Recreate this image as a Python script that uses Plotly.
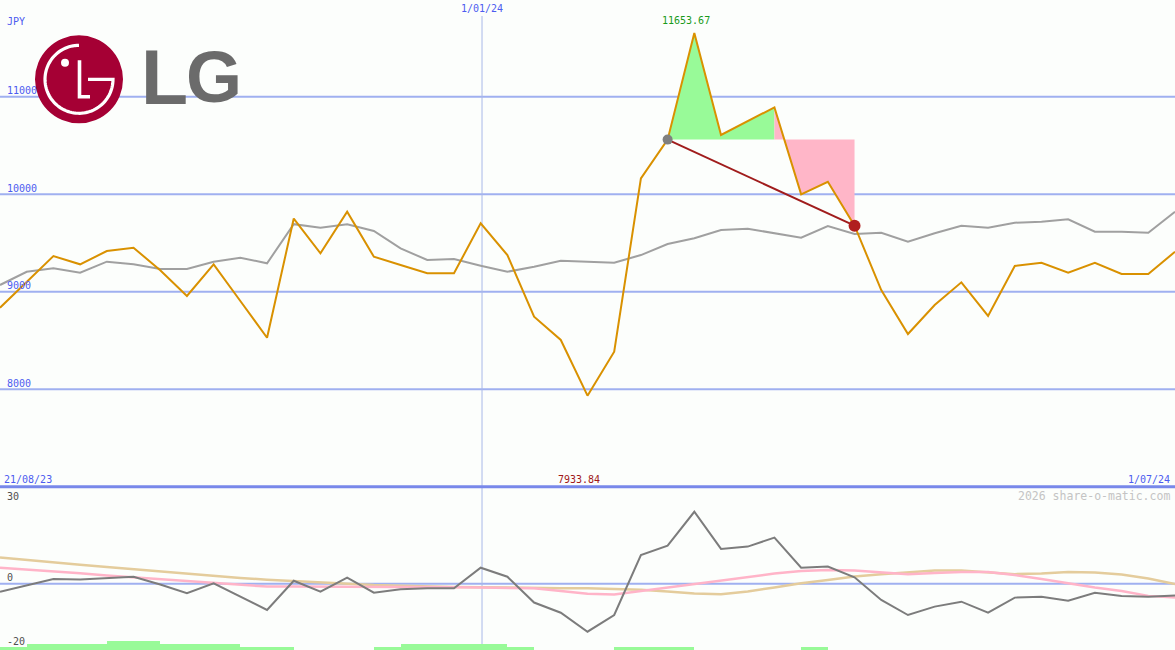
import numpy as np
import plotly.graph_objects as go

# ---------------- data ----------------
n_points = 45
idx = list(range(n_points))

price = [8836, 9100, 9366, 9281, 9417, 9451, 9220, 8956, 9281, 8905,
         8528, 9750, 9394, 9821, 9359, 9274, 9189, 9189, 9701, 9376,
         8744, 8505, 7933.84, 8385, 10163, 10560, 11653.67, 10608, 10750, 10891,
         9999, 10128, 9677, 9017, 8566, 8864, 9096, 8751, 9264, 9297,
         9195, 9297, 9182, 9182, 9410]

moving_avg = [9069, 9205, 9240, 9195, 9308, 9281, 9233, 9233, 9308, 9349,
              9291, 9693, 9656, 9691, 9623, 9445, 9325, 9335, 9267, 9205,
              9256, 9318, 9308, 9297, 9376, 9489, 9548, 9633, 9646, 9599,
              9554, 9674, 9592, 9605, 9513, 9599, 9677, 9656, 9708, 9718,
              9743, 9615, 9615, 9605, 9821]

oscillator = [-2.76, -0.55, 1.62, 1.45, 1.97, 2.41, -0.3, -3.31, 0.14, -4.48,
              -9.07, 1.03, -2.76, 2.07, -3.1, -1.93, -1.59, -1.59, 5.52, 2.41,
              -6.5, -10.0, -16.55, -10.8, 9.9, 13.1, 24.8, 12.0, 12.8, 15.9,
              5.5, 5.9, 2.2, -5.6, -10.8, -7.9, -6.2, -10.0, -4.8, -4.5,
              -5.9, -3.1, -4.2, -4.5, -4.1]

signal_pink = [5.5, 4.9, 4.4, 3.6, 2.8, 2.2, 1.6, 1.0, 0.4, -0.3,
               -1.0, -1.0, -1.0, -1.05, -1.1, -1.15, -1.2, -1.25, -1.3, -1.4,
               -1.6, -2.5, -3.5, -3.7, -2.5, -1.1, 0.1, 1.3, 2.5, 3.5,
               4.4, 4.7, 4.55, 3.8, 3.3, 3.7, 4.0, 4.0, 3.0, 1.6,
               0.1, -1.3, -2.5, -4.2, -4.8]

signal_tan = [9.0, 8.1, 7.3, 6.5, 5.8, 5.0, 4.2, 3.5, 2.7, 2.0,
              1.4, 0.9, 0.5, 0.0, -0.45, -0.7, -1.0, -1.1, -1.2, -1.4,
              -1.55, -1.6, -1.6, -1.8, -2.1, -2.7, -3.4, -3.6, -2.7, -1.3,
              0.15, 1.3, 2.5, 3.3, 4.0, 4.55, 4.55, 4.0, 3.3, 3.5,
              4.0, 3.9, 3.2, 1.8, -0.1]

bar_levels = [1, 2, 2, 2, 3, 3, 2, 2, 2, 1, 1, 0, 0, 0, 1, 2, 2, 2, 2, 1,
              0, 0, 0, 1, 1, 1, 0, 0, 0, 0, 1, 0, 0, 0, 0, 0, 0, 0, 0, 0,
              0, 0, 0, 0]

price_ticks = [8000, 9000, 10000, 11000]
osc_ticks = [30, 0, -20]
date_labels = ["21/08/23", "1/01/24", "1/07/24"]
date_pos = [0, 18.05, 44]

start_i, peak_i, end_i = 25, 26, 32   # trade start, high, exit
turn_i = 29
max_label = "11653.67"
min_label = "7933.84"

# ---------------- layout helpers ----------------
W, H = 1175, 650
def px(x):
    return x / W
def py(y):
    return 1 - y / H

BG = "#fcfefc"
GRID = "#a0b0f0"
LBL = "#4c5cf0"
MONO = "DejaVu Sans Mono"

top_range = [6997, 11992]
bot_range = [-22.86, 33.0]

fig = go.Figure()

# green / pink areas
base = price[start_i]
gx = idx[start_i:turn_i + 1] + [idx[turn_i], idx[start_i]]
gy = price[start_i:turn_i + 1] + [base, base]
fig.add_trace(go.Scatter(x=gx, y=gy, fill="toself", fillcolor="#98fa98",
                         line=dict(width=0), mode="lines", hoverinfo="skip",
                         xaxis="x", yaxis="y"))
rx = idx[turn_i:end_i + 1] + [idx[end_i], idx[turn_i]]
ry = price[turn_i:end_i + 1] + [base, base]
fig.add_trace(go.Scatter(x=rx, y=ry, fill="toself", fillcolor="#ffb6c8",
                         line=dict(width=0), mode="lines", hoverinfo="skip",
                         xaxis="x", yaxis="y"))

# moving average and price
fig.add_trace(go.Scatter(x=idx, y=moving_avg, mode="lines",
                         line=dict(color="#a0a0a0", width=2), xaxis="x", yaxis="y"))
fig.add_trace(go.Scatter(x=idx, y=price, mode="lines",
                         line=dict(color="#d99100", width=2), xaxis="x", yaxis="y"))

# trade line and dots
fig.add_trace(go.Scatter(x=[idx[start_i], idx[end_i]], y=[price[start_i], price[end_i]],
                         mode="lines", line=dict(color="#a01c1c", width=2),
                         xaxis="x", yaxis="y"))
fig.add_trace(go.Scatter(x=[idx[start_i]], y=[price[start_i]], mode="markers",
                         marker=dict(color="#808080", size=10), xaxis="x", yaxis="y"))
fig.add_trace(go.Scatter(x=[idx[end_i]], y=[price[end_i]], mode="markers",
                         marker=dict(color="#b01e1e", size=12), xaxis="x", yaxis="y"))

# bottom panel
bot_base = bot_range[0]
fig.add_trace(go.Bar(x=[i + 0.5 for i in range(len(bar_levels))],
                     y=[lv * 1.05 for lv in bar_levels], base=bot_base, width=1.0,
                     marker=dict(color="#98fa98", line=dict(width=0)),
                     xaxis="x2", yaxis="y2"))
fig.add_trace(go.Scatter(x=idx, y=signal_tan, mode="lines",
                         line=dict(color="#e4cc9c", width=2.5), xaxis="x2", yaxis="y2"))
fig.add_trace(go.Scatter(x=idx, y=signal_pink, mode="lines",
                         line=dict(color="#ffb4c8", width=2.5), xaxis="x2", yaxis="y2"))
fig.add_trace(go.Scatter(x=idx, y=oscillator, mode="lines",
                         line=dict(color="#7c7c7c", width=2), xaxis="x2", yaxis="y2"))

shapes = []
# price gridlines
for t in price_ticks:
    shapes.append(dict(type="line", xref="paper", yref="y", x0=0, x1=1, y0=t, y1=t,
                       line=dict(color=GRID, width=2), layer="below"))
# zero line bottom
shapes.append(dict(type="line", xref="paper", yref="y2", x0=0, x1=1, y0=0, y1=0,
                   line=dict(color=GRID, width=2), layer="below"))
# separator
shapes.append(dict(type="line", xref="paper", yref="paper", x0=0, x1=1,
                   y0=py(486.7), y1=py(486.7), line=dict(color="#7888ea", width=3)))
# vertical date line
shapes.append(dict(type="line", xref="x", yref="paper", x0=date_pos[1], x1=date_pos[1],
                   y0=py(16), y1=0, line=dict(color="#a8b8e8", width=1), layer="below"))

# LG logo
cx, cy, r = 79, 79.3, 44
shapes.append(dict(type="circle", xref="paper", yref="paper",
                   x0=px(cx - r), x1=px(cx + r), y0=py(cy + r), y1=py(cy - r),
                   fillcolor="#a50034", line=dict(width=0)))
ang = np.linspace(np.pi / 2, 2 * np.pi, 80)
ra = 34
pts = [(cx + ra * np.cos(a), cy - ra * np.sin(a)) for a in ang]
path = "M " + " L ".join(f"{px(x):.5f},{py(y):.5f}" for x, y in pts)
path += f" L {px(cx + 9):.5f},{py(cy):.5f}"
shapes.append(dict(type="path", xref="paper", yref="paper", path=path,
                   line=dict(color="white", width=3.2)))
lpath = (f"M {px(cx + 0.5):.5f},{py(cy - 19):.5f} L {px(cx + 0.5):.5f},{py(cy + 17.5):.5f} "
         f"L {px(cx + 11):.5f},{py(cy + 17.5):.5f}")
shapes.append(dict(type="path", xref="paper", yref="paper", path=lpath,
                   line=dict(color="white", width=3.6)))
shapes.append(dict(type="circle", xref="paper", yref="paper",
                   x0=px(cx - 18), x1=px(cx - 10), y0=py(cy - 12.5), y1=py(cy - 20.5),
                   fillcolor="white", line=dict(width=0)))

annotations = []
def ann(text, x, y, color, size=10, xanchor="left", xref="paper", yref="paper",
        family=MONO, yanchor="middle"):
    annotations.append(dict(text=text, x=x, y=y, xref=xref, yref=yref,
                            xanchor=xanchor, yanchor=yanchor, showarrow=False,
                            font=dict(family=family, size=size, color=color)))

ann("JPY", px(5), py(21.5), LBL)
for t in price_ticks:
    annotations.append(dict(text=str(t), x=px(5), y=t, xref="paper", yref="y",
                            xanchor="left", yanchor="middle", yshift=6, showarrow=False,
                            font=dict(family=MONO, size=10, color=LBL)))
ann(date_labels[0], px(2), py(479), LBL)
ann(date_labels[2], px(1172), py(479), LBL, xanchor="right")
annotations.append(dict(text=date_labels[1], x=date_pos[1], y=py(9), xref="x", yref="paper",
                        xanchor="center", yanchor="middle", showarrow=False,
                        font=dict(family=MONO, size=10, color=LBL)))
annotations.append(dict(text=max_label, x=peak_i - 0.3, y=py(21), xref="x", yref="paper",
                        xanchor="center", yanchor="middle", showarrow=False,
                        font=dict(family=MONO, size=10, color="#1a9a1a")))
annotations.append(dict(text=min_label, x=21.7, y=py(479), xref="x", yref="paper",
                        xanchor="center", yanchor="middle", showarrow=False,
                        font=dict(family=MONO, size=10, color="#a01818")))
for t in osc_ticks:
    annotations.append(dict(text=str(t), x=px(5), y=t, xref="paper", yref="y2",
                            xanchor="left", yanchor="middle",
                            yshift=6 if t == 0 else 0, showarrow=False,
                            font=dict(family=MONO, size=10, color="#505050")))
ann("2026 share-o-matic.com", px(1172), py(496), "#c4c4c4", size=11.5, xanchor="right")

# LG wordmark
ann("<b>L</b>", px(139), py(77), "#6b6b6b", size=77, family="Liberation Sans, Arial")
ann("<b>G</b>", px(184), py(77), "#6b6b6b", size=72, family="Liberation Sans, Arial")

fig.update_layout(
    width=W, height=H, margin=dict(l=0, r=0, t=0, b=0),
    paper_bgcolor=BG, plot_bgcolor=BG, showlegend=False,
    xaxis=dict(range=[0, 44], domain=[0, 1], anchor="y", visible=False),
    yaxis=dict(range=top_range, domain=[py(487), 1], visible=False),
    xaxis2=dict(range=[0, 44], domain=[0, 1], anchor="y2", visible=False),
    yaxis2=dict(range=bot_range, domain=[0, py(488)], visible=False),
    shapes=shapes, annotations=annotations, bargap=0,
)

fig.write_html("out.html", config={"displayModeBar": False},
               post_script="document.body.style.margin='0';"
                           "document.body.style.overflow='hidden';"
                           "document.body.style.background='" + BG + "';")
